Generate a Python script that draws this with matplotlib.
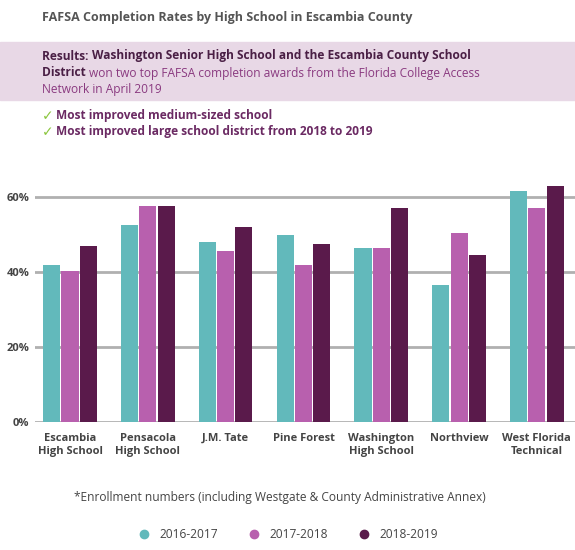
import matplotlib.pyplot as plt
import numpy as np
from matplotlib.patches import Rectangle
from matplotlib.lines import Line2D

plt.rcParams['font.family'] = ['Open Sans', 'DejaVu Sans']

schools = ["Escambia\nHigh School", "Pensacola\nHigh School", "J.M. Tate", "Pine Forest",
           "Washington\nHigh School", "Northview", "West Florida\nTechnical"]
s2016 = [41.8, 52.5, 48.0, 50.0, 46.5, 36.5, 61.5]
s2017 = [40.3, 57.5, 45.5, 42.0, 46.5, 50.5, 57.0]
s2018 = [47.0, 57.5, 52.0, 47.5, 57.0, 44.5, 63.0]
series_labels = ["2016-2017", "2017-2018", "2018-2019"]
colors = ["#62b9bb", "#b860ae", "#5a1a4b"]
yticks = [0, 20, 40, 60]

fig = plt.figure(figsize=(5.75, 5.5), dpi=100)
W, H = 575, 550
def fx(x): return x / W
def fy(y): return 1 - y / H
renderer = fig.canvas.get_renderer()

def seq(x, y, parts, fs=8.6):
    for txt, bold, col in parts:
        t = fig.text(fx(x), fy(y), txt, fontsize=fs, fontweight="bold" if bold else "normal",
                     color=col, va="center")
        x += t.get_window_extent(renderer).width

fig.text(fx(42), fy(18), "FAFSA Completion Rates by High School in Escambia County",
         fontsize=9, fontweight="bold", color="#555555", va="center")
fig.patches.append(Rectangle((0, fy(100)), 1, fy(42) - fy(100), transform=fig.transFigure,
                             color="#e8d8e6", zorder=0))
P1, P2 = "#4a1f45", "#8a3a80"
seq(42, 56, [("Results: ", True, P1),
             ("Washington Senior High School and the Escambia County School", True, P1)])
seq(42, 73, [("District ", True, P1),
             ("won two top FAFSA completion awards from the Florida College Access", False, P2)])
seq(42, 89, [("Network in April 2019", False, P2)])
for y, t in [(116, "Most improved medium-sized school"),
             (132, "Most improved large school district from 2018 to 2019")]:
    fig.text(fx(42), fy(y), "\u2713", fontsize=10, color="#8cc63f", va="center",
             family="DejaVu Sans")
    fig.text(fx(56), fy(y), t, fontsize=8.6, fontweight="bold", color="#6b2a63", va="center")

ax = fig.add_axes([fx(35), fy(422), 1 - fx(35), fy(159.5) - fy(422)])
x = np.arange(len(schools))
w = 0.22
for i, (vals, c, lab) in enumerate(zip([s2016, s2017, s2018], colors, series_labels)):
    ax.bar(x + (i - 1) * 0.235, vals, width=w, color=c, label=lab, zorder=3)
ax.set_ylim(0, 70)
ax.set_xlim(-0.45, 6.49)
ax.set_yticks(yticks)
ax.set_yticklabels([f"{v}%" for v in yticks], fontsize=8, fontweight="bold", color="#444444")
ax.yaxis.grid(True, color="#b0b0b0", linewidth=2, zorder=0)
ax.set_xticks(x)
ax.set_xticklabels(schools, fontsize=8, fontweight="bold", color="#444444")
ax.tick_params(length=0, pad=8)
ax.tick_params(axis="y", pad=4)
for s in ax.spines.values():
    s.set_visible(False)

fig.text(fx(280), fy(497), "*Enrollment numbers (including Westgate & County Administrative Annex)",
         fontsize=8.6, color="#444444", ha="center", va="center")
handles = [Line2D([], [], marker="o", linestyle="", color=c, markersize=6) for c in colors]
fig.legend(handles, series_labels, loc="center", bbox_to_anchor=(fx(285), fy(535)), ncol=3,
           frameon=False, fontsize=8.6, handletextpad=0.3, columnspacing=2, labelcolor="#444444")
fig.savefig("out.png", dpi=100)
